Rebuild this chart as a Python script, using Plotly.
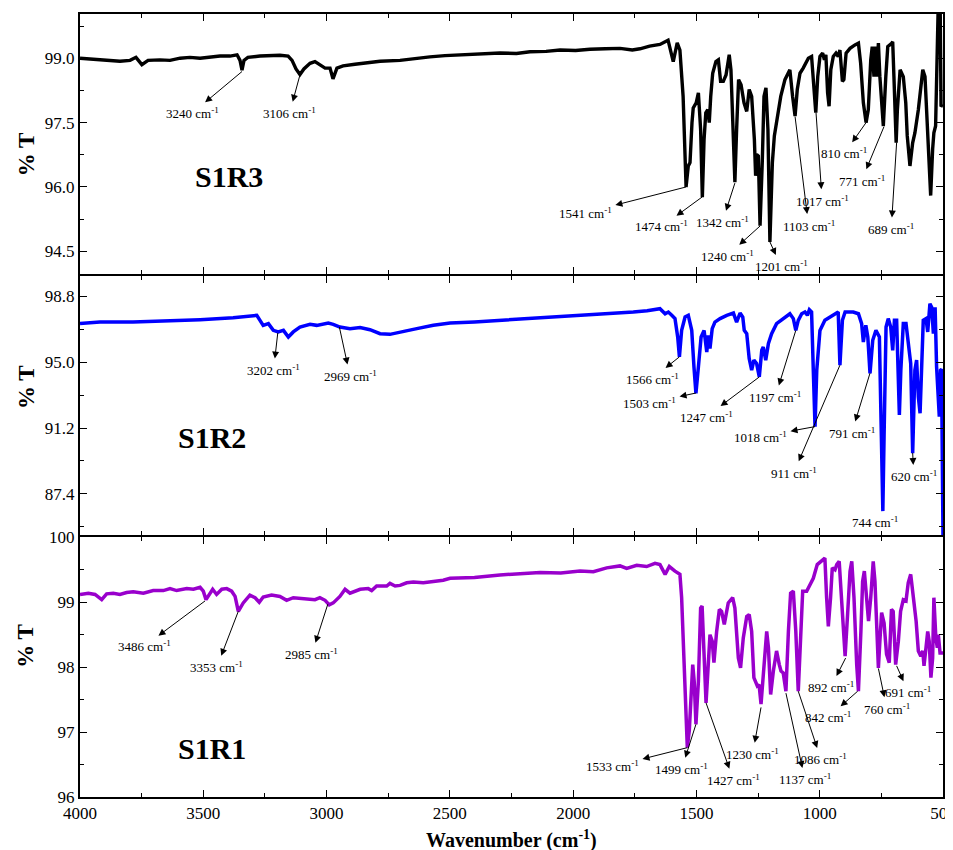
import plotly.graph_objects as go

# ---------------- data ----------------
# S1R3 (top panel, black)
wn_s1r3 = [4000, 3959, 3919, 3878, 3838, 3797, 3773, 3749, 3724, 3676, 3635, 3594, 3554, 3513,
           3473, 3432, 3392, 3363, 3351, 3343, 3335, 3319, 3270, 3229, 3189, 3156, 3140, 3124,
           3108, 3092, 3067, 3047, 3027, 3006, 2986, 2974, 2958, 2933, 2885, 2836, 2783, 2702,
           2640, 2581, 2520, 2459, 2400, 2297, 2230, 2175, 2110, 2053, 1990, 1932, 1870, 1810,
           1760, 1729, 1690, 1648, 1615, 1594, 1578, 1567, 1554, 1546, 1542, 1533, 1526, 1518,
           1513, 1501, 1492, 1483, 1476, 1469, 1462, 1454, 1448, 1442, 1434, 1421, 1411, 1402,
           1391, 1380, 1367, 1360, 1350, 1344, 1337, 1329, 1319, 1307, 1296, 1286, 1276, 1265,
           1260, 1256, 1249, 1242, 1233, 1226, 1218, 1210, 1202, 1192, 1184, 1172, 1158, 1141,
           1121, 1110, 1100, 1091, 1080, 1067, 1046, 1033, 1026, 1016, 1008, 999, 988, 981, 975,
           968, 962, 955, 945, 934, 925, 918, 908, 902, 893, 877, 857, 843, 834, 823, 812, 803,
           793, 787, 780, 776, 769, 762, 756, 742, 732, 724, 708, 704, 699, 690, 685, 674, 661,
           651, 645, 634, 623, 614, 600, 582, 573, 564, 556, 550, 542, 537, 530, 526, 523, 518,
           512, 508, 500]
t_s1r3 = [99.00, 98.98, 98.97, 98.95, 98.93, 98.95, 99.02, 98.85, 98.95, 98.96, 98.95, 99.00, 99.02, 99.00,
          99.03, 99.05, 99.05, 99.08, 98.95, 98.72, 98.95, 99.02, 99.05, 99.06, 99.07, 99.05, 98.95, 98.75,
          98.62, 98.75, 98.88, 98.92, 98.85, 98.77, 98.77, 98.52, 98.77, 98.82, 98.86, 98.90, 98.93, 98.95,
          99.00, 99.03, 99.06, 99.08, 99.10, 99.12, 99.11, 99.15, 99.16, 99.19, 99.18, 99.21, 99.22, 99.23,
          99.19, 99.22, 99.28, 99.32, 99.42, 98.92, 99.36, 99.19, 98.11, 96.57, 96.00, 96.49, 96.57, 97.50,
          97.84, 97.96, 98.19, 97.34, 95.76, 97.11, 97.73, 97.80, 97.50, 98.11, 98.65, 98.92, 98.96, 98.46,
          98.46, 98.61, 99.08, 98.73, 97.34, 96.11, 97.34, 98.50, 98.38, 97.96, 97.76, 98.27, 98.11, 97.11,
          96.26, 96.76, 96.72, 95.10, 96.57, 98.11, 98.31, 97.34, 94.72, 96.57, 97.19, 97.57, 98.11, 98.50,
          98.73, 98.11, 97.65, 98.27, 98.65, 98.77, 99.00, 99.04, 98.57, 97.73, 98.57, 99.04, 99.12, 98.96, 99.08,
          98.19, 97.88, 98.73, 99.04, 99.12, 99.04, 99.19, 98.46, 98.50, 99.12, 99.23, 99.31, 99.35, 98.88, 97.96, 97.50, 97.80,
          98.96, 99.27, 98.57, 99.27, 98.57, 99.35, 98.57, 97.42, 98.57, 99.27, 99.35, 99.38, 98.57, 97.03, 97.80, 98.73, 98.57,
          97.96, 97.19, 96.49, 97.03, 97.26, 97.80, 98.73, 98.57, 97.57, 96.34, 95.80, 96.88, 97.26, 97.42, 98.57, 99.73, 100.6,
          100.6, 97.90, 97.88]

# S1R2 (middle panel, blue)
wn_s1r2 = [4000, 3919, 3785, 3647, 3513, 3379, 3283, 3270, 3257, 3236, 3216, 3196, 3175, 3155, 3135,
           3108, 3067, 3040, 2993, 2973, 2946, 2905, 2864, 2824, 2783, 2743, 2702, 2634, 2567, 2499,
           2400, 2297, 2200, 2094, 2000, 1891, 1800, 1756, 1700, 1648, 1627, 1614, 1600, 1587, 1576,
           1569, 1560, 1546, 1533, 1519, 1510, 1502, 1492, 1481, 1469, 1458, 1452, 1445, 1436, 1425,
           1404, 1377, 1350, 1337, 1323, 1312, 1306, 1296, 1286, 1276, 1267, 1256, 1245, 1235, 1229,
           1219, 1208, 1195, 1175, 1148, 1121, 1107, 1097, 1087, 1073, 1060, 1050, 1042, 1033, 1026,
           1019, 1012, 999, 979, 958, 938, 925, 918, 908, 897, 864, 843, 830, 823, 813, 805, 796, 785,
           772, 758, 749, 744, 739, 731, 722, 712, 704, 697, 688, 681, 677, 671, 661, 650, 641, 631,
           623, 614, 607, 600, 593, 586, 580, 569, 562, 553, 546, 539, 532, 526, 519, 515, 510, 506, 500]
t_s1r2 = [97.23, 97.32, 97.32, 97.38, 97.46, 97.57, 97.71, 97.42, 97.13, 97.23, 96.84, 96.75, 96.84, 96.46, 96.75,
          97.03, 97.19, 97.13, 97.26, 97.19, 97.03, 96.94, 97.00, 96.88, 96.65, 96.61, 96.75, 96.94, 97.13, 97.26,
          97.33, 97.42, 97.50, 97.58, 97.65, 97.75, 97.82, 97.90, 97.98, 98.09, 97.80, 97.90, 97.71, 97.52, 96.46,
          95.31, 96.84, 97.61, 97.71, 96.84, 94.73, 93.20, 94.73, 96.46, 96.84, 95.59, 96.55, 95.79, 96.94, 97.32,
          97.52, 97.71, 97.84, 97.32, 97.84, 97.61, 96.84, 96.65, 95.21, 94.54, 95.12, 94.93, 94.15, 95.69, 95.88,
          95.12, 96.08, 96.65, 97.23, 97.52, 97.80, 97.52, 96.84, 97.42, 97.80, 97.90, 97.71, 98.03, 97.90, 94.54,
          91.28, 94.54, 96.84, 97.42, 97.61, 97.80, 97.90, 94.83, 97.42, 97.90, 97.90, 97.80, 97.23, 96.17, 97.13, 96.46, 94.35, 96.27,
          96.84, 96.46, 90.70, 86.40, 90.70, 97.03, 97.52, 97.03, 95.69, 97.42, 97.42, 94.54, 91.95, 94.54, 97.23, 97.23, 96.27, 94.93,
          89.74, 94.54, 95.12, 93.00, 92.05, 94.54, 97.42, 97.52, 96.75, 98.38, 98.18, 96.65, 98.18, 94.73, 92.62, 91.85, 94.54, 94.60, 84.90]

# S1R1 (bottom panel, purple)
wn_s1r1 = [4000, 3966, 3939, 3912, 3892, 3865, 3838, 3811, 3784, 3743, 3703, 3662, 3635, 3608, 3567,
           3540, 3513, 3500, 3489, 3476, 3462, 3446, 3425, 3405, 3385, 3371, 3358, 3338, 3311, 3290,
           3273, 3257, 3223, 3189, 3162, 3135, 3081, 3047, 3027, 3006, 2989, 2973, 2946, 2925, 2905,
           2864, 2831, 2817, 2797, 2756, 2743, 2722, 2702, 2675, 2648, 2608, 2567, 2527, 2499, 2400,
           2297, 2200, 2134, 2050, 1972, 1918, 1864, 1810, 1783, 1742, 1702, 1668, 1648, 1627, 1610,
           1587, 1567, 1560, 1551, 1542, 1537, 1529, 1519, 1515, 1509, 1502, 1492, 1483, 1477, 1469,
           1461, 1452, 1445, 1436, 1429, 1418, 1407, 1398, 1387, 1371, 1353, 1344, 1330, 1321, 1310,
           1296, 1286, 1276, 1267, 1253, 1246, 1238, 1226, 1215, 1208, 1199, 1188, 1175, 1164, 1157,
           1148, 1137, 1127, 1118, 1107, 1097, 1087, 1077, 1069, 1053, 1026, 1010, 985, 979, 972, 965,
           956, 949, 938, 931, 921, 911, 897, 887, 877, 870, 861, 850, 843, 833, 826, 819, 810, 802,
           793, 783, 776, 769, 762, 756, 749, 739, 729, 718, 709, 702, 692, 681, 672, 661, 650, 641,
           631, 620, 609, 600, 590, 582, 577, 569, 562, 556, 549, 542, 537, 529, 523, 519, 512, 500]
t_s1r1 = [99.12, 99.14, 99.12, 99.04, 99.13, 99.14, 99.12, 99.15, 99.16, 99.14, 99.18, 99.18, 99.21, 99.18, 99.21,
          99.20, 99.23, 99.17, 99.04, 99.12, 99.20, 99.12, 99.20, 99.21, 99.17, 99.09, 98.86, 98.99, 99.11, 99.07,
          99.00, 99.08, 99.11, 99.09, 99.03, 99.07, 99.05, 99.04, 99.07, 99.03, 98.96, 98.99, 99.09, 99.20, 99.14,
          99.20, 99.21, 99.18, 99.25, 99.25, 99.29, 99.25, 99.26, 99.30, 99.31, 99.30, 99.32, 99.34, 99.37, 99.38,
          99.42, 99.44, 99.46, 99.45, 99.48, 99.47, 99.53, 99.56, 99.52, 99.57, 99.55, 99.60, 99.58, 99.43, 99.55,
          99.48, 99.43, 99.07, 98.04, 97.02, 96.76, 97.02, 97.94, 98.04, 97.78, 97.12, 97.78, 98.91, 98.94, 98.30,
          97.45, 98.04, 98.50, 98.40, 98.07, 98.55, 98.89, 98.86, 98.66, 98.99, 99.07, 98.91, 98.14, 97.99, 98.45,
          98.78, 98.81, 98.55, 97.84, 97.71, 97.73, 97.43, 98.04, 98.55, 98.30, 97.58, 97.94, 98.25, 98.04, 97.94,
          97.91, 97.63, 98.55, 99.14, 99.17, 98.55, 97.63, 98.55, 99.17, 99.17, 99.37, 99.58, 99.66, 99.68, 99.07, 98.63,
          99.07, 99.53, 99.50, 99.58, 99.63, 99.07, 98.17, 98.81, 99.48, 99.63, 99.07, 98.04, 97.63, 98.55, 99.32, 99.48, 99.07, 98.71,
          99.07, 99.63, 99.32, 98.55, 97.99, 98.40, 98.84, 98.68, 98.20, 98.07, 98.89, 98.86, 98.04, 98.40, 98.86, 99.04, 99.02, 99.30,
          99.43, 99.07, 98.71, 98.25, 98.17, 98.25, 98.02, 98.30, 98.55, 98.40, 97.84, 98.14, 99.07, 98.45, 98.30, 98.50, 98.22, 98.22]

x_ticks = [4000, 3500, 3000, 2500, 2000, 1500, 1000, 500]

# peak labels: (text, peak wn, peak %T, label wn, label %T)
labels_s1r3 = [
    ("3240", 3343, 98.69, 3545, 97.72),
    ("3106", 3108, 98.61, 3150, 97.72),
    ("1541", 1542, 96.00, 1950, 95.40),
    ("1474", 1476, 95.77, 1640, 95.08),
    ("1342", 1344, 96.09, 1395, 95.18),
    ("1240", 1242, 95.09, 1375, 94.40),
    ("1201", 1202, 94.72, 1157, 94.15),
    ("1103", 1100, 97.64, 1045, 95.10),
    ("1017", 1015, 97.73, 990, 95.68),
    ("810", 812, 97.50, 900, 96.78),
    ("771", 739, 97.41, 830, 96.15),
    ("689", 688, 97.04, 710, 95.02),
]
labels_s1r2 = [
    ("3202", 3198, 96.69, 3215, 94.55),
    ("2969", 2948, 97.03, 2905, 94.20),
    ("1566", 1569, 95.31, 1680, 94.05),
    ("1503", 1502, 93.22, 1690, 92.65),
    ("1247", 1245, 94.15, 1460, 91.85),
    ("1197", 1097, 96.84, 1180, 93.00),
    ("1018", 1019, 91.28, 1240, 90.70),
    ("911", 918, 94.83, 1105, 88.62),
    ("791", 796, 94.37, 870, 90.92),
    ("744", None, None, 776, 85.79),
    ("620", 623, 89.76, 618, 88.40),
]
labels_s1r1 = [
    ("3486", 3493, 99.02, 3740, 98.32),
    ("3353", 3358, 98.86, 3445, 98.00),
    ("2985", 2995, 98.97, 3060, 98.20),
    ("1533", 1537, 96.76, 1840, 96.47),
    ("1499", 1502, 97.12, 1560, 96.43),
    ("1427", 1461, 97.45, 1350, 96.26),
    ("1230", 1238, 97.38, 1272, 96.66),
    ("1137", 1137, 97.60, 1060, 96.27),
    ("1086", 1087, 97.63, 995, 96.58),
    ("892", 895, 98.14, 955, 97.69),
    ("842", 846, 97.63, 965, 97.23),
    ("760", 762, 97.98, 728, 97.36),
    ("691", 688, 98.02, 640, 97.61),
]

# ---------------- figure ----------------
SERIF = "Liberation Serif, Times New Roman, serif"
fig = go.Figure()
fig.add_trace(go.Scatter(x=wn_s1r3, y=t_s1r3, xaxis="x", yaxis="y", mode="lines",
                         line=dict(color="#000000", width=3.4), showlegend=False))
fig.add_trace(go.Scatter(x=wn_s1r2, y=t_s1r2, xaxis="x2", yaxis="y2", mode="lines",
                         line=dict(color="#0000FF", width=3.5), showlegend=False))
fig.add_trace(go.Scatter(x=wn_s1r1, y=t_s1r1, xaxis="x3", yaxis="y3", mode="lines",
                         line=dict(color="#9900CC", width=3.5), showlegend=False))

common_axis = dict(showline=True, linecolor="black", linewidth=2, mirror="allticks",
                   ticks="inside", ticklen=7, tickwidth=1.3, tickcolor="black",
                   showgrid=False, zeroline=False, automargin=False, ticklabeloverflow="allow",
                   tickfont=dict(family=SERIF, size=17, color="black"))

def xax(anchor, show):
    return dict(common_axis, range=[4000, 500], tickmode="array", tickvals=x_ticks,
                ticktext=[str(v) for v in x_ticks], showticklabels=show, anchor=anchor,
                minor=dict(ticks="inside", ticklen=4, tickwidth=1.1, tickcolor="black", dtick=250, tick0=500))

def ymin(d, t0):
    return dict(ticks="inside", ticklen=4, tickwidth=1.1, tickcolor="black", dtick=d, tick0=t0)

# the page body has an 8px default margin, so the figure is sized/margined to compensate
fig.update_layout(
    width=945, height=842,
    margin=dict(l=72, r=10, t=6, b=53),
    paper_bgcolor="white", plot_bgcolor="white",
    xaxis=xax("y", False),
    xaxis2=xax("y2", False),
    xaxis3=xax("y3", True),
    yaxis=dict(common_axis, domain=[0.66837, 1], range=[93.98, 100.03], tick0=94.5, dtick=1.5,
               tickformat=".1f", anchor="x", minor=ymin(0.75, 94.5)),
    yaxis2=dict(common_axis, domain=[0.33419, 0.66581], range=[85.0, 100.0], tick0=87.4, dtick=3.8,
                tickformat=".1f", anchor="x2", minor=ymin(1.9, 87.4)),
    yaxis3=dict(common_axis, domain=[0, 0.33163], range=[96, 100], tick0=96, dtick=1,
                tickformat="d", anchor="x3", minor=ymin(0.5, 96)),
)

annotations = []
for labels, xr, yr in [(labels_s1r3, "x", "y"), (labels_s1r2, "x2", "y2"), (labels_s1r1, "x3", "y3")]:
    for txt, px, py, lx, ly in labels:
        text = f"{txt} cm<sup>-1</sup>"
        font = dict(family=SERIF, size=13, color="black")
        if px is None:
            annotations.append(dict(x=lx, y=ly, xref=xr, yref=yr, text=text,
                                    showarrow=False, font=font))
        else:
            annotations.append(dict(x=px, y=py, ax=lx, ay=ly, xref=xr, yref=yr, axref=xr, ayref=yr,
                                    text=text, font=font, showarrow=True, arrowside="start",
                                    arrowhead=2, startarrowhead=2, startarrowsize=1.4, arrowsize=1.4,
                                    arrowwidth=1, arrowcolor="black", standoff=0, startstandoff=2))

# panel names
for name, xr, yr, px, py in [("S1R3", "x", "y", 3394, 96.24), ("S1R2", "x2", "y2", 3465, 90.65),
                             ("S1R1", "x3", "y3", 3465, 96.75)]:
    annotations.append(dict(x=px, y=py, xref=xr, yref=yr, text=f"<b>{name}</b>", showarrow=False,
                            font=dict(family=SERIF, size=30, color="black")))

# y titles
for yr, yd in [("y domain", 0.46), ("y2 domain", 0.571), ("y3 domain", 0.582)]:
    annotations.append(dict(x=0, y=yd, xref="paper", yref=yr, xshift=-54, text="<b>% T</b>",
                            textangle=-90, showarrow=False, xanchor="center", yanchor="middle",
                            font=dict(family=SERIF, size=23, color="black")))

# x title
annotations.append(dict(x=0.5, y=0, xref="paper", yref="paper", yshift=-28, yanchor="top",
                        text="<b>Wavenumber (cm<sup>-1</sup>)</b>", showarrow=False,
                        font=dict(family=SERIF, size=20, color="black")))

fig.update_layout(annotations=annotations)
fig.write_html("out.html")
